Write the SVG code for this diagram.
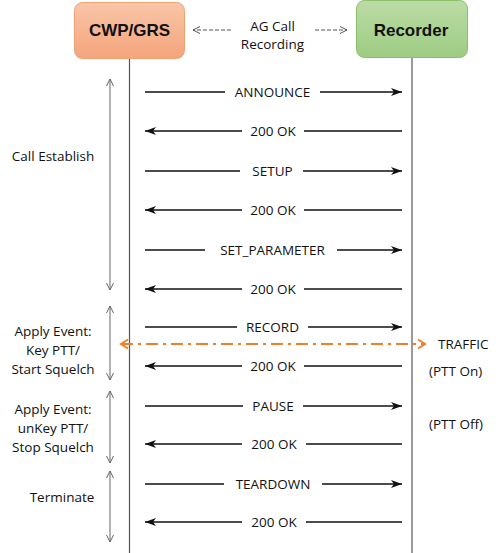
<svg xmlns="http://www.w3.org/2000/svg" width="500" height="553" viewBox="0 0 500 553">
<defs>
<linearGradient id="gOr" x1="0" y1="0" x2="0" y2="1"><stop offset="0" stop-color="#f9c6a8"/><stop offset="1" stop-color="#f4a47b"/></linearGradient>
<linearGradient id="gGr" x1="0" y1="0" x2="0" y2="1"><stop offset="0" stop-color="#bcdca6"/><stop offset="1" stop-color="#9dcc82"/></linearGradient>
<marker id="ah" markerUnits="userSpaceOnUse" markerWidth="14" markerHeight="12" refX="11" refY="5" orient="auto" viewBox="0 0 14 10"><path d="M0,1 L11,5 L0,9 L3,5 Z" fill="#111"/></marker>
<marker id="vh" markerUnits="userSpaceOnUse" markerWidth="10" markerHeight="10" refX="7" refY="4" orient="auto-start-reverse" viewBox="0 0 10 8"><path d="M0,0.5 L7,4 L0,7.5" fill="none" stroke="#666" stroke-width="1"/></marker>
<marker id="oh" markerUnits="userSpaceOnUse" markerWidth="12" markerHeight="12" refX="8" refY="5" orient="auto-start-reverse" viewBox="0 0 12 10"><path d="M1,0.5 L8,5 L1,9.5" fill="none" stroke="#ef7f2a" stroke-width="2"/></marker>
<marker id="dh" markerUnits="userSpaceOnUse" markerWidth="10" markerHeight="10" refX="7" refY="4" orient="auto-start-reverse" viewBox="0 0 10 8"><path d="M0,0.5 L7,4 L0,7.5" fill="none" stroke="#555" stroke-width="1"/></marker>
</defs>
<style>
text{font-family:"Open Sans","Liberation Sans",sans-serif;font-size:13.5px;fill:#111}
.c{text-anchor:middle}
.box{font-family:"Liberation Sans",Arial,sans-serif;font-size:17px;font-weight:bold;fill:#111}
.msg{stroke:#111;stroke-width:1.5;fill:none}
.life{stroke:#555;stroke-width:1.2}
.span{stroke:#666;stroke-width:1;marker-start:url(#vh);marker-end:url(#vh)}
</style>
<rect width="500" height="553" fill="#fff"/>
<g id="node-cwp">
<rect x="74.5" y="2.5" width="110" height="56" rx="8" fill="url(#gOr)" stroke="#f2a272" stroke-width="1"/>
<text class="box c" x="129.5" y="36">CWP/GRS</text>
</g>
<g id="node-recorder">
<rect x="356.5" y="0.5" width="111" height="57" rx="8" fill="url(#gGr)" stroke="#8cc06c" stroke-width="1"/>
<text class="box c" x="411" y="36">Recorder</text>
</g>
<g id="lifelines">
<line class="life" x1="129.5" y1="59" x2="129.5" y2="553"/>
<line class="life" x1="412" y1="58" x2="412" y2="553"/>
</g>
<g id="node-ag-call">
<text class="c" x="272.5" y="31">AG Call</text>
<text class="c" x="272.5" y="49">Recording</text>
</g>
<g id="connectors">
<line x1="231" y1="30" x2="193" y2="30" stroke="#555" stroke-width="1" stroke-dasharray="4,2" marker-end="url(#dh)"/>
<line x1="315" y1="30" x2="347" y2="30" stroke="#555" stroke-width="1" stroke-dasharray="4,2" marker-end="url(#dh)"/>
<!-- ANNOUNCE -->
<line class="msg" x1="145" y1="92" x2="225" y2="92"/><line class="msg" x1="320" y1="92" x2="402" y2="92" marker-end="url(#ah)"/>
<!-- 200 OK -->
<line class="msg" x1="242" y1="131" x2="145" y2="131" marker-end="url(#ah)"/><line class="msg" x1="304" y1="131" x2="402" y2="131"/>
<!-- SETUP -->
<line class="msg" x1="145" y1="171" x2="240" y2="171"/><line class="msg" x1="303" y1="171" x2="402" y2="171" marker-end="url(#ah)"/>
<!-- 200 OK -->
<line class="msg" x1="242" y1="210" x2="145" y2="210" marker-end="url(#ah)"/><line class="msg" x1="304" y1="210" x2="402" y2="210"/>
<!-- SET_PARAMETER -->
<line class="msg" x1="145" y1="250" x2="205" y2="250"/><line class="msg" x1="337" y1="250" x2="402" y2="250" marker-end="url(#ah)"/>
<!-- 200 OK -->
<line class="msg" x1="242" y1="289" x2="145" y2="289" marker-end="url(#ah)"/><line class="msg" x1="304" y1="289" x2="402" y2="289"/>
<!-- RECORD -->
<line class="msg" x1="145" y1="327" x2="237" y2="327"/><line class="msg" x1="308" y1="327" x2="402" y2="327" marker-end="url(#ah)"/>
<!-- TRAFFIC -->
<line x1="121" y1="344" x2="425" y2="344" stroke="#ef7f2a" stroke-width="2" stroke-dasharray="12,5,3,5" marker-start="url(#oh)" marker-end="url(#oh)"/>
<!-- 200 OK -->
<line class="msg" x1="242" y1="366" x2="145" y2="366" marker-end="url(#ah)"/><line class="msg" x1="304" y1="366" x2="402" y2="366"/>
<!-- PAUSE -->
<line class="msg" x1="145" y1="406" x2="243" y2="406"/><line class="msg" x1="303" y1="406" x2="402" y2="406" marker-end="url(#ah)"/>
<!-- 200 OK -->
<line class="msg" x1="242" y1="444" x2="145" y2="444" marker-end="url(#ah)"/><line class="msg" x1="306" y1="444" x2="402" y2="444"/>
<!-- TEARDOWN -->
<line class="msg" x1="145" y1="484" x2="224" y2="484"/><line class="msg" x1="322" y1="484" x2="402" y2="484" marker-end="url(#ah)"/>
<!-- 200 OK -->
<line class="msg" x1="242" y1="522" x2="145" y2="522" marker-end="url(#ah)"/><line class="msg" x1="306" y1="522" x2="402" y2="522"/>
<!-- phase spans -->
<line class="span" x1="110" y1="79" x2="110" y2="290"/>
<line class="span" x1="110" y1="306" x2="110" y2="380"/>
<line class="span" x1="110" y1="391" x2="110" y2="463"/>
<line class="span" x1="110" y1="471" x2="110" y2="542"/>
</g>
<g id="message-labels">
<text class="c" x="272.5" y="97">ANNOUNCE</text>
<text class="c" x="273" y="136">200 OK</text>
<text class="c" x="272.5" y="176">SETUP</text>
<text class="c" x="273" y="215">200 OK</text>
<text class="c" x="272.5" y="255">SET_PARAMETER</text>
<text class="c" x="273" y="294">200 OK</text>
<text class="c" x="272.5" y="332">RECORD</text>
<text class="c" x="273" y="371">200 OK</text>
<text class="c" x="273" y="411">PAUSE</text>
<text class="c" x="274" y="449">200 OK</text>
<text class="c" x="273" y="489">TEARDOWN</text>
<text class="c" x="274" y="527">200 OK</text>
</g>
<g id="node-traffic">
<text x="438" y="349">TRAFFIC</text>
<text x="429" y="376">(PTT On)</text>
<text x="429" y="429">(PTT Off)</text>
</g>
<g id="node-phases">
<text class="c" x="53" y="161">Call Establish</text>
<text class="c" x="53" y="336">Apply Event:</text>
<text class="c" x="53" y="355">Key PTT/</text>
<text class="c" x="53" y="374">Start Squelch</text>
<text class="c" x="53" y="414">Apply Event:</text>
<text class="c" x="53" y="433">unKey PTT/</text>
<text class="c" x="53" y="452">Stop Squelch</text>
<text class="c" x="62" y="502">Terminate</text>
</g>
</svg>
